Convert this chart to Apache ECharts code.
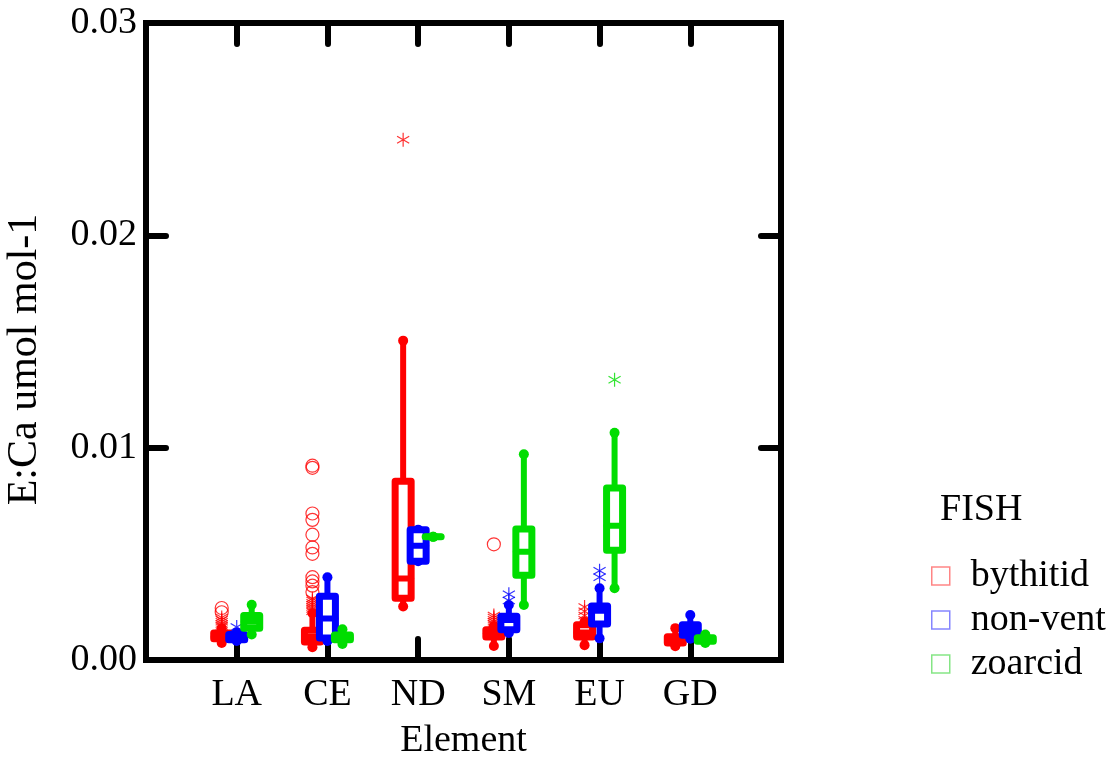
<!DOCTYPE html>
<html>
<head>
<meta charset="utf-8">
<script src="https://cdn.jsdelivr.net/npm/echarts@6/dist/echarts.min.js"></script>
<style>
html,body{margin:0;padding:0;background:#fff;}
#chart{width:1116px;height:759px;}
</style>
</head>
<body>
<div id="chart"></div>
<script>
const categories = ['LA', 'CE', 'ND', 'SM', 'EU', 'GD'];
const groups = ['bythitid', 'non-vent', 'zoarcid'];
const yTicks = [0, 0.01, 0.02, 0.03];

// [low whisker, Q1, median, Q3, high whisker] per element
const bythitidBox = [
  [0.0008, 0.00100, 0.0011, 0.00127, 0.0015],
  [0.0006, 0.00085, 0.0011, 0.0014, 0.0022],
  [0.00252, 0.00291, 0.00384, 0.00842, 0.01504],
  [0.00066, 0.00108, 0.00125, 0.00143, 0.0016],
  [0.0007, 0.00108, 0.0013, 0.00166, 0.0018],
  [0.00065, 0.0008, 0.0009, 0.0011, 0.0015]
];
const nonventBox = [
  [0.0009, 0.00095, 0.00105, 0.0012, 0.0013],
  [0.0009, 0.00104, 0.00196, 0.0030, 0.0039],
  [0.00465, 0.00465, 0.00538, 0.00614, 0.00614],
  [0.00127, 0.00143, 0.00188, 0.00206, 0.00259],
  [0.00102, 0.0017, 0.00232, 0.00254, 0.00338],
  [0.0010, 0.00116, 0.00138, 0.00166, 0.00212]
];
const zoarcidBox = [
  [0.0012, 0.0015, 0.0018, 0.0021, 0.0026],
  [0.00075, 0.00095, 0.00105, 0.00118, 0.00145],
  [0.0058, 0.0058, 0.0058, 0.0058, 0.0058],
  [0.00259, 0.00399, 0.0051, 0.00617, 0.00969],
  [0.00338, 0.00517, 0.00632, 0.0081, 0.0107],
  [0.0008, 0.00088, 0.00095, 0.00105, 0.0012]
];

// outliers: [element index, value]
const bythitidStars = [[0,0.0016],[0,0.0017],[0,0.0018],[0,0.0019],[0,0.0020],
  [1,0.0023],[1,0.0024],[1,0.0025],[1,0.0026],[1,0.0027],[1,0.0028],[1,0.0029],
  [2,0.0245],
  [3,0.0017],[3,0.0018],[3,0.0019],[3,0.0020],[3,0.0021],
  [4,0.0019],[4,0.0021],[4,0.0023],[4,0.0025]];
const bythitidCircles = [[0,0.00245],[0,0.00225],
  [1,0.00915],[1,0.00905],[1,0.0069],[1,0.0066],[1,0.0059],[1,0.0053],[1,0.0050],
  [1,0.0039],[1,0.0037],[1,0.0035],[1,0.0032],
  [3,0.00545]];
const nonventStars = [[0,0.00155],[3,0.0028],[3,0.0031],[4,0.0039],[4,0.0042]];
const nonventCircles = [];
const zoarcidStars = [[4,0.0132]];
const zoarcidCircles = [];

const colors = ['#ff0000', '#0000ff', '#00dd00'];
const legendColors = ['rgba(255,0,0,0.6)', 'rgba(0,0,255,0.6)', 'rgba(0,200,0,0.6)'];
const offsets = [-15, 0, 15];
const FONT = '"Liberation Serif", "Times New Roman", serif';
const STAR = 'path://M0,-10L0,10M-8.66,-5L8.66,5M-8.66,5L8.66,-5';

function boxSeries(name, boxes, color, dx) {
  return {
    name: name,
    type: 'custom',
    data: boxes.map((b, i) => [i + 1].concat(b)),
    renderItem: function (params, api) {
      const x = api.value(0);
      const pLw = api.coord([x, api.value(1)]);
      const pQ1 = api.coord([x, api.value(2)]);
      const pMd = api.coord([x, api.value(3)]);
      const pQ3 = api.coord([x, api.value(4)]);
      const pHw = api.coord([x, api.value(5)]);
      const cx = pMd[0] + dx;
      const w = 16;
      const lw = 7;
      const children = [];
      children.push({type: 'line', shape: {x1: cx, y1: pQ3[1], x2: cx, y2: pHw[1]},
        style: {stroke: color, lineWidth: 6, lineCap: 'round'}});
      children.push({type: 'line', shape: {x1: cx, y1: pQ1[1], x2: cx, y2: pLw[1]},
        style: {stroke: color, lineWidth: 6, lineCap: 'round'}});
      children.push({type: 'circle', shape: {cx: cx, cy: pHw[1], r: 5}, style: {fill: color}});
      children.push({type: 'circle', shape: {cx: cx, cy: pLw[1], r: 5}, style: {fill: color}});
      children.push({type: 'rect', shape: {x: cx - w / 2, y: pQ3[1], width: w, height: Math.max(pQ1[1] - pQ3[1], 0)},
        style: {fill: '#fff', stroke: color, lineWidth: lw, lineJoin: 'round'}});
      children.push({type: 'line', shape: {x1: cx - w / 2, y1: pMd[1], x2: cx + w / 2, y2: pMd[1]},
        style: {stroke: color, lineWidth: 6, lineCap: 'round'}});
      return {type: 'group', children: children};
    }
  };
}

function outlierSeries(name, pts, color, dx, symbol, size) {
  return {
    name: name,
    type: 'scatter',
    data: pts.map(p => [p[0] + 1, p[1]]),
    symbol: symbol,
    symbolSize: size,
    symbolOffset: [dx, 0],
    symbolKeepAspect: true,
    itemStyle: {color: 'rgba(0,0,0,0)', borderColor: color, borderWidth: 1.2},
    emphasis: {disabled: true},
    silent: true
  };
}

const series = [
  outlierSeries('bythitid', bythitidCircles, colors[0], offsets[0], 'circle', 13),
  outlierSeries('bythitid', bythitidStars, colors[0], offsets[0], STAR, 14),
  boxSeries('bythitid', bythitidBox, colors[0], offsets[0]),
  outlierSeries('non-vent', nonventCircles, colors[1], offsets[1], 'circle', 13),
  outlierSeries('non-vent', nonventStars, colors[1], offsets[1], STAR, 14),
  boxSeries('non-vent', nonventBox, colors[1], offsets[1]),
  outlierSeries('zoarcid', zoarcidCircles, colors[2], offsets[2], 'circle', 13),
  outlierSeries('zoarcid', zoarcidStars, colors[2], offsets[2], STAR, 14),
  boxSeries('zoarcid', zoarcidBox, colors[2], offsets[2])
];
series.forEach((s, i) => { s.z = 2 + i; });

const tickStyle = {color: '#000', width: 6, cap: 'round'};
const chart = echarts.init(document.getElementById('chart'), null, {renderer: 'canvas'});
chart.setOption({
  animation: false,
  backgroundColor: '#fff',
  title: {
    text: 'FISH', left: 935, top: 486,
    textStyle: {fontFamily: FONT, fontSize: 38, fontWeight: 'normal', color: '#000'}
  },
  legend: {
    orient: 'vertical', left: 926, top: 552,
    itemWidth: 18, itemHeight: 18, itemGap: 6,
    selectedMode: false,
    textStyle: {fontFamily: FONT, fontSize: 38, color: '#000', padding: [0, 0, 0, 16]},
    data: groups.map((g, i) => ({
      name: g, icon: 'rect',
      itemStyle: {color: 'rgba(0,0,0,0)', borderColor: legendColors[i], borderWidth: 1.5}
    }))
  },
  grid: {
    left: 146, top: 23, right: 335, bottom: 99,
    containLabel: false, outerBoundsMode: 'none',
    show: true, borderWidth: 6, borderColor: '#000', backgroundColor: 'transparent'
  },
  xAxis: [{
    type: 'value', min: 0, max: categories.length + 1, interval: 1,
    position: 'bottom',
    name: 'Element', nameLocation: 'middle', nameGap: 62,
    nameTextStyle: {fontFamily: FONT, fontSize: 38, color: '#000'},
    axisLine: {show: false, onZero: false},
    axisTick: {show: true, inside: true, length: 21, lineStyle: tickStyle},
    splitLine: {show: false},
    axisLabel: {
      fontFamily: FONT, fontSize: 38, color: '#000', margin: 16,
      showMinLabel: true, showMaxLabel: true,
      formatter: v => categories[v - 1] || ''
    }
  }, {
    type: 'value', min: 0, max: categories.length + 1, interval: 1,
    position: 'top',
    axisLine: {show: false, onZero: false},
    axisTick: {show: true, inside: true, length: 21, lineStyle: tickStyle},
    splitLine: {show: false},
    axisLabel: {show: false}
  }],
  yAxis: [{
    type: 'value', min: yTicks[0], max: yTicks[yTicks.length - 1], interval: 0.01,
    position: 'left',
    name: 'E:Ca umol mol-1', nameLocation: 'middle', nameGap: 100, nameRotate: 90,
    nameTextStyle: {fontFamily: FONT, fontSize: 42, color: '#000', padding: [0, 36, 0, 0]},
    axisLine: {show: false, onZero: false},
    axisTick: {show: true, inside: true, length: 20, lineStyle: tickStyle},
    splitLine: {show: false},
    axisLabel: {fontFamily: FONT, fontSize: 38, color: '#000', margin: 9, formatter: v => v.toFixed(2)}
  }, {
    type: 'value', min: yTicks[0], max: yTicks[yTicks.length - 1], interval: 0.01,
    position: 'right',
    axisLine: {show: false, onZero: false},
    axisTick: {show: true, inside: true, length: 20, lineStyle: tickStyle},
    splitLine: {show: false},
    axisLabel: {show: false}
  }],
  series: series
});
</script>
</body>
</html>
